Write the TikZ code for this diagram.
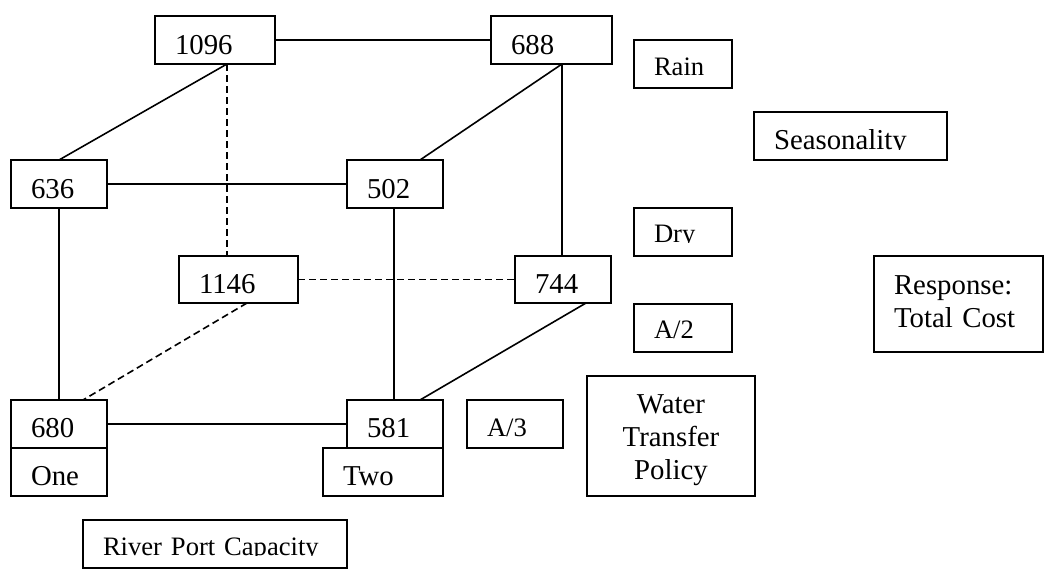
\documentclass[tikz,border=0pt]{standalone}
\usepackage{fontspec}
\setmainfont{Liberation Serif}
\tikzset{
  cube/.style={draw, line width=1.6pt, outer sep=0pt, anchor=north west, inner xsep=20pt, inner ysep=0pt, align=left},
  big/.style={font=\fontsize{28.8}{33}\selectfont},
  small/.style={font=\fontsize{26.6}{31}\selectfont},
  link/.style={line width=1.6pt},
  hidden/.style={link, dash pattern=on 7pt off 4pt},
  mask/.style={fill=white, draw=none}
}
\begin{document}
\begin{tikzpicture}[x=1pt,y=-1pt]
\useasboundingbox (0,0) rectangle (1045,571);
% cube corners
\node[cube,big,text width=80pt,text height=38pt,text depth=10pt] (n1096) at (155,16) {1096};
\node[cube,big,text width=81pt,text height=38pt,text depth=10pt] (n688) at (491,16) {688};
\node[cube,big,text width=56pt,text height=38pt,text depth=10pt] (n636) at (11,160) {636};
\node[cube,big,text width=56pt,text height=38pt,text depth=10pt] (n502) at (347,160) {502};
\node[cube,big,text width=79pt,text height=37pt,text depth=10pt] (n1146) at (179,256) {1146};
\node[cube,big,text width=56pt,text height=37pt,text depth=10pt] (n744) at (515,256) {744};
\node[cube,big,text width=56pt,text height=37pt,text depth=11pt] (n680) at (11,400) {680};
\node[cube,big,text width=56pt,text height=37pt,text depth=11pt] (n581) at (347,400) {581};
% factor labels
\node[cube,big,text width=56pt,text height=37pt,text depth=11pt] (one) at (11,448) {One};
\node[cube,big,text width=80pt,text height=37pt,text depth=11pt] (two) at (323,448) {Two};
\node[cube,small,text width=224pt,text height=35pt,text depth=13pt] (river) at (83,520) {River Port Capacity};
\node[cube,small,text width=58pt,text height=35pt,text depth=13pt] (rain) at (634,40) {Rain};
\node[cube,big,text width=153pt,text height=37pt,text depth=11pt] (seas) at (754,112) {Seasonality};
\node[cube,small,text width=58pt,text height=34pt,text depth=14pt] (dry) at (634,208) {Dry};
\node[cube,small,text width=58pt,text height=34pt,text depth=14pt] (a2) at (634,304) {A/2};
\node[cube,small,text width=56pt,text height=36pt,text depth=12pt] (a3) at (467,400) {A/3};
\node[cube,big,align=center,text width=128pt,text height=37pt,text depth=83pt] (water) at (587,376) {Water\\Transfer\\Policy};
\node[cube,big,text width=129pt,text height=38pt,text depth=58pt] (resp) at (874,256) {Response:\\Total Cost};
% clipped descenders
\fill[mask] ([xshift=1.5pt,yshift=1.5pt]seas.south west) rectangle ([xshift=-1.5pt,yshift=10pt]seas.south east);
\fill[mask] ([xshift=1.5pt,yshift=1.5pt]dry.south west) rectangle ([xshift=-1.5pt,yshift=13pt]dry.south east);
\fill[mask] ([xshift=1.5pt,yshift=1.5pt]river.south west) rectangle ([xshift=-1.5pt,yshift=12pt]river.south east);
% solid edges
\draw[link] (n1096.east) -- (n688.west);
\draw[link] (n636.east) -- (n502.west);
\draw[link] (n680.east) -- (n581.west);
\draw[link] ([xshift=72pt]n1096.south west) -- ([xshift=48pt]n636.north west);
\draw[link] ([xshift=71pt]n688.south west) -- ([xshift=73pt]n502.north west);
\draw[link] ([xshift=71pt]n688.south west) -- ([xshift=47pt]n744.north west);
\draw[link] ([xshift=48pt]n636.south west) -- ([xshift=48pt]n680.north west);
\draw[link] ([xshift=47pt]n502.south west) -- ([xshift=47pt]n581.north west);
\draw[link] ([xshift=71pt]n744.south west) -- ([xshift=73pt]n581.north west);
% hidden edges
\draw[hidden] ([xshift=72pt]n1096.south west) -- ([xshift=48pt]n1146.north west);
\draw[hidden] (n1146.east) -- (n744.west);
\draw[hidden] ([xshift=68pt]n1146.south west) -- ([xshift=72pt]n680.north west);
\end{tikzpicture}
\end{document}
